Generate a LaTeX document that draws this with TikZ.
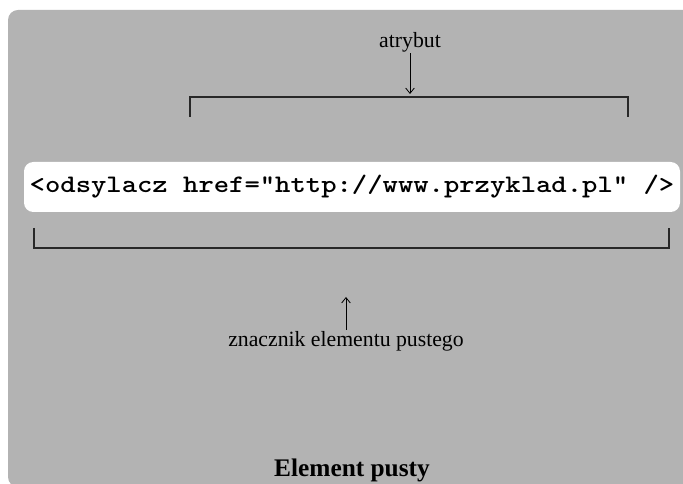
\documentclass[tikz,border=0pt]{standalone}
\usepackage{fontspec}
\setmainfont{Liberation Serif}
\newfontfamily\codefont{lmmonolt10-bold}[Extension=.otf, FakeStretch=1.16]
\usetikzlibrary{arrows.meta,positioning}
\definecolor{panelGray}{RGB}{179,179,179}
\definecolor{inkGray}{RGB}{40,40,40}
\tikzset{
  note/.style={inner sep=1pt, font=\fontsize{16.3}{18}\selectfont},
  codebox/.style={fill=white, rounded corners=7pt, minimum width=492pt, minimum height=37.5pt,
                  inner sep=0pt, font=\codefont\fontsize{18.9}{21}\selectfont},
  titlenode/.style={inner sep=1pt, font=\bfseries\fontsize{19}{21}\selectfont},
  arrow/.style={-{Straight Barb[length=4pt, width=6.5pt]}, line width=0.6pt, draw=black},
  bracket/.style={line width=0.8pt, draw=inkGray}
}
\begin{document}
\begin{tikzpicture}[x=0.75pt, y=-0.75pt]
\useasboundingbox (0,0) rectangle (683,484);
\begin{scope}
  \clip (0,0) rectangle (683,484);
  \fill[panelGray, rounded corners=7.5pt] (8,10) rectangle (700,487);
\end{scope}
% attribute part
\node[note] (attr) at (410,42) {atrybut};
\coordinate (attrtip) at (410,94);
\draw[arrow] (attr) -- (attrtip);
\draw[bracket] (190,117) -- (190,97) -- (628,97) -- (628,117);
% the empty element tag
\node[codebox] (code) at (352,187) {<odsylacz href="http://www.przyklad.pl" />};
\draw[bracket] (34,228) -- (34,248) -- (669,248) -- (669,228);
\node[note] (tag) at (346,341) {znacznik elementu pustego};
\coordinate (tagtip) at (346,297);
\draw[arrow] (tag) -- (tagtip);
\node[titlenode] (title) at (352,470) {Element pusty};
\end{tikzpicture}
\end{document}
